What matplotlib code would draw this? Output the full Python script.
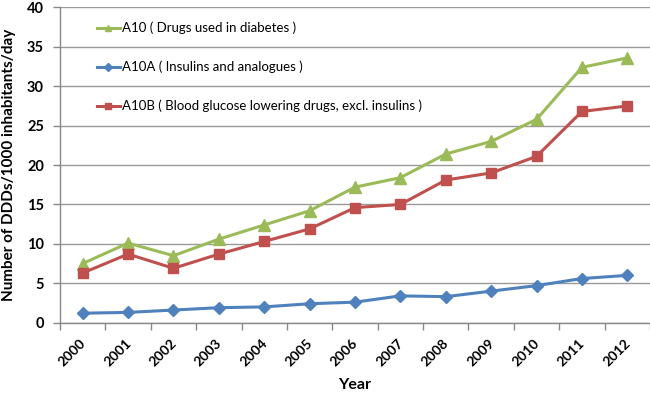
import matplotlib
matplotlib.use("Agg")
import matplotlib.pyplot as plt
import matplotlib.transforms as mtransforms
import numpy as np

years = ["2000", "2001", "2002", "2003", "2004", "2005", "2006",
         "2007", "2008", "2009", "2010", "2011", "2012"]
a10 = [7.5, 10.1, 8.5, 10.6, 12.4, 14.2, 17.2, 18.4, 21.4, 23.0, 25.8, 32.4, 33.6]
a10a = [1.2, 1.3, 1.6, 1.9, 2.0, 2.4, 2.6, 3.4, 3.3, 4.0, 4.7, 5.6, 6.0]
a10b = [6.3, 8.7, 6.9, 8.7, 10.3, 11.9, 14.6, 15.0, 18.1, 19.0, 21.1, 26.8, 27.5]
labels = ["A10 ( Drugs used in diabetes )",
          "A10A ( Insulins and analogues )",
          "A10B ( Blood glucose lowering drugs, excl. insulins )"]
yticks = [0, 5, 10, 15, 20, 25, 30, 35, 40]

plt.rcParams['font.family'] = ['Lato', 'DejaVu Sans']

fig = plt.figure(figsize=(6.5, 3.93), dpi=100)
ax = fig.add_axes([0.0923, 0.179, 0.9077, 0.802])

x = np.arange(len(years))
green = "#9BBB59"
blue = "#4F81BD"
red = "#C0504D"

l1, = ax.plot(x, a10, color=green, lw=2.2, marker="^", ms=8, label=labels[0], zorder=3)
l2, = ax.plot(x, a10a, color=blue, lw=2.2, marker="D", ms=6.5, label=labels[1], zorder=3)
l3, = ax.plot(x, a10b, color=red, lw=2.2, marker="s", ms=7, label=labels[2], zorder=3)

ax.set_xlim(-0.5, len(years) - 0.5)
ax.set_ylim(0, 40)
ax.set_yticks(yticks)
ax.set_yticklabels([str(v) for v in yticks], fontsize=10.5, fontweight='bold')

# category labels, rotated 45 degrees
ax.set_xticks(x)
ax.set_xticklabels([])
ax.tick_params(axis='x', length=0)
base = mtransforms.blended_transform_factory(ax.transData, ax.transAxes)
off = mtransforms.ScaledTranslation(1/100, -19/100, fig.dpi_scale_trans)
for xi, yr in zip(x, years):
    ax.text(xi, 0, yr, transform=base + off, rotation=45, rotation_mode='anchor',
            ha='right', va='center', fontsize=10, fontweight='bold')

ax.set_xticks(np.arange(-0.5, len(years), 1), minor=True)
ax.tick_params(axis='x', which='minor', length=5, color='#888888', width=1)
ax.tick_params(axis='y', length=5, color='#888888', width=1, pad=6.5)

ax.grid(axis='y', color='#999999', lw=1)
ax.set_axisbelow(True)
for s in ['top', 'right']:
    ax.spines[s].set_visible(False)
for s in ['left', 'bottom']:
    ax.spines[s].set_color('#888888')
    ax.spines[s].set_linewidth(1)

ax.set_xlabel("Year", fontsize=11.5, fontweight='bold')
ax.xaxis.set_label_coords(0.5, -0.176)
ax.set_ylabel("Number of DDDs/1000 inhabitants/day", fontsize=11, fontweight='bold')
ax.yaxis.set_label_coords(-0.0746, 0.5)

leg = ax.legend(handles=[l1, l2, l3], loc='upper left', bbox_to_anchor=(0.042, 0.992),
                frameon=False, fontsize=9.5, labelspacing=2.0, handlelength=1.74,
                handletextpad=0.15, markerscale=0.6)

fig.savefig("out.png", dpi=100)
